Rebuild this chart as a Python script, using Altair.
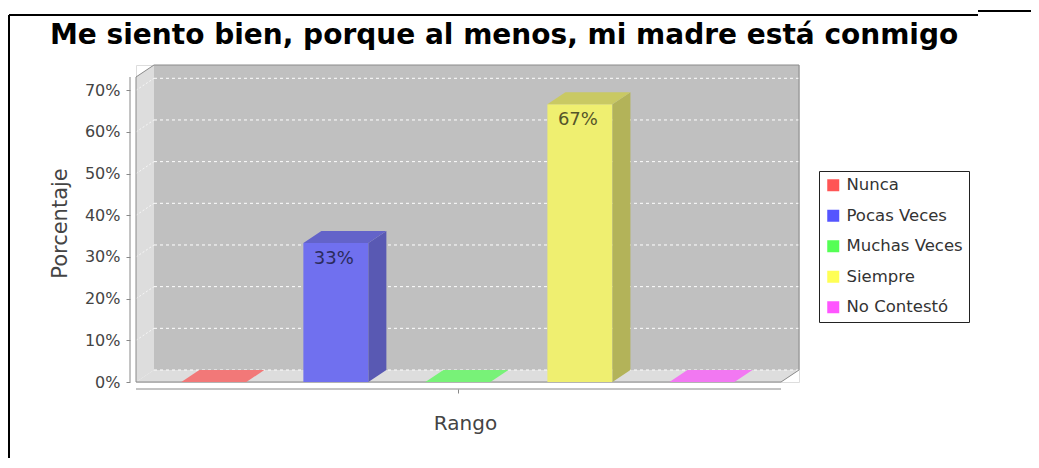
import altair as alt
import pandas as pd

# ---- data ----
categories = ["Nunca", "Pocas Veces", "Muchas Veces", "Siempre", "No Contestó"]
values = [0, 33.33, 0, 66.67, 0]
value_labels = ["", "33%", "", "67%", ""]
legend_colors = ["#FF5555", "#5555FF", "#55FF55", "#FFFF55", "#FF55FF"]
front_colors = ["#EF7070", "#7070EF", "#70EF70", "#EFEF70", "#EF70EF"]
top_colors = ["#F27878", "#6363C9", "#78F278", "#C9C963", "#F278F2"]
side_colors = ["#B35959", "#5959B3", "#59B359", "#B3B359", "#B359B3"]
label_colors = ["#333333", "#2B2B5C", "#333333", "#55552A", "#333333"]
y_ticks = [0, 10, 20, 30, 40, 50, 60, 70]
title_text = "Me siento bien, porque al menos, mi madre está conmigo"

# ---- 3D geometry (style constants, in scale units) ----
X_LO = -0.638       # left edge of front plane
X_HI = 4.648        # right edge of front plane
DX = 0.1475         # depth offset along x
DY = 2.88           # depth offset along y
Y_FRONT_TOP = 73.19
HALF = 0.2664       # half bar width
X_MAX = X_HI + DX
Y_MAX = Y_FRONT_TOP + DY
W, H = 663, 317

FONT = "DejaVu Sans"
xs = alt.Scale(domain=[X_LO, X_MAX], nice=False, zero=False)
ys = alt.Scale(domain=[0, Y_MAX], nice=False, zero=False)
x_axis = alt.Axis(values=[2], labels=False, domain=False, grid=False, ticks=True,
                  tickSize=4, tickColor="#888888", offset=7, title="Rango",
                  titleFont=FONT, titleFontSize=20, titleFontWeight="normal",
                  titleColor="#444444", titleX=329, titleY=34,
                  titleAlign="center", titleBaseline="middle")
y_axis = alt.Axis(values=y_ticks, labelExpr="datum.value + '%'", domain=False,
                  grid=False, tickSize=4, tickColor="#888888", offset=6,
                  labelPadding=6, labelFont=FONT, labelFontSize=16,
                  labelColor="#444444", title="Porcentaje", titleFont=FONT,
                  titleFontSize=21, titleFontWeight="normal", titleColor="#444444",
                  titleX=-70, titleY=158, titleAngle=270, titleAlign="center",
                  titleBaseline="middle")


def X(f="x"):
    return alt.X(f"{f}:Q", scale=xs, axis=x_axis)


def Y(f="y"):
    return alt.Y(f"{f}:Q", scale=ys, axis=y_axis, stack=None)


X2 = alt.X2("x2:Q")
Y2 = alt.Y2("y2:Q")

layers = []

# back wall
back = pd.DataFrame({"x": [X_LO + DX], "x2": [X_MAX], "y": [DY], "y2": [Y_MAX]})
layers.append(alt.Chart(back).mark_rect(color="#C0C0C0").encode(x=X(), x2=X2, y=Y(), y2=Y2))

# left wall
lw = pd.DataFrame({"x": [X_LO, X_LO + DX], "y": [0, DY], "y2": [Y_FRONT_TOP, Y_MAX]})
layers.append(alt.Chart(lw).mark_area(color="#DDDDDD").encode(x=X(), y=Y(), y2=Y2))

# floor
fl = pd.DataFrame({"x": [X_LO, X_LO + DX, X_HI, X_MAX],
                   "y": [0, 0, 0, DY], "y2": [0, DY, DY, DY]})
layers.append(alt.Chart(fl).mark_area(color="#DDDDDD").encode(x=X(), y=Y(), y2=Y2))

# gridlines on back wall
gb = pd.DataFrame({"x": [X_LO + DX] * len(y_ticks), "x2": [X_MAX] * len(y_ticks),
                   "y": [v + DY for v in y_ticks], "y2": [v + DY for v in y_ticks]})
layers.append(alt.Chart(gb).mark_rule(color="white", strokeDash=[3, 3], strokeWidth=1)
              .encode(x=X(), x2=X2, y=Y(), y2=Y2))

# gridlines on left wall
gl = pd.DataFrame({"x": [X_LO] * 7, "x2": [X_LO + DX] * 7,
                   "y": y_ticks[1:], "y2": [v + DY for v in y_ticks[1:]]})
layers.append(alt.Chart(gl).mark_rule(color="white", strokeDash=[2, 2], strokeWidth=1, opacity=0.7)
              .encode(x=X(), x2=X2, y=Y(), y2=Y2))

# outline of the walls
ol = pd.DataFrame({"x": [X_LO, X_LO, X_LO + DX, X_MAX, X_MAX, X_HI, X_LO],
                   "y": [0, Y_FRONT_TOP, Y_MAX, Y_MAX, DY, 0, 0],
                   "o": list(range(7))})
layers.append(alt.Chart(ol).mark_line(color="#8A8A8A", strokeWidth=1)
              .encode(x=X(), y=Y(), order="o:Q"))

# bars
front_rows, side_rows, top_rows, text_rows = [], [], [], []
for i, (cat, v) in enumerate(zip(categories, values)):
    c = float(i)
    if v > 0:
        front_rows.append({"x": c - HALF, "x2": c + HALF, "y": 0, "y2": v, "fill": front_colors[i]})
        side_rows += [
            {"bar": cat, "x": c + HALF, "y": 0, "y2": v, "fill": side_colors[i]},
            {"bar": cat, "x": c + HALF + DX, "y": DY, "y2": v + DY, "fill": side_colors[i]},
        ]
        text_rows.append({"x": c, "y": v, "t": value_labels[i], "tc": label_colors[i]})
    top_rows += [
        {"bar": cat, "x": c - HALF, "y": v, "y2": v, "fill": top_colors[i]},
        {"bar": cat, "x": c - HALF + DX, "y": v, "y2": v + DY, "fill": top_colors[i]},
        {"bar": cat, "x": c + HALF, "y": v, "y2": v + DY, "fill": top_colors[i]},
        {"bar": cat, "x": c + HALF + DX, "y": v + DY, "y2": v + DY, "fill": top_colors[i]},
    ]

layers.append(alt.Chart(pd.DataFrame(front_rows)).mark_rect()
              .encode(x=X(), x2=X2, y=Y(), y2=Y2, fill=alt.Fill("fill:N", scale=None)))
layers.append(alt.Chart(pd.DataFrame(side_rows)).mark_area()
              .encode(x=X(), y=Y(), y2=Y2, fill=alt.Fill("fill:N", scale=None), detail="bar:N"))
layers.append(alt.Chart(pd.DataFrame(top_rows)).mark_area()
              .encode(x=X(), y=Y(), y2=Y2, fill=alt.Fill("fill:N", scale=None), detail="bar:N"))

# value labels
layers.append(alt.Chart(pd.DataFrame(text_rows))
              .mark_text(font=FONT, fontSize=18, dy=15.5, dx=-2, baseline="middle")
              .encode(x=X(), y=Y(), text="t:N", fill=alt.Fill("tc:N", scale=None)))

# y axis line (front plane only)
ya = pd.DataFrame({"y": [0], "y2": [Y_FRONT_TOP]})
layers.append(alt.Chart(ya).mark_rule(color="#888888", strokeWidth=1)
              .encode(x=alt.value(-6), y=Y(), y2=Y2))

# x axis line
xa = pd.DataFrame({"x": [X_LO], "x2": [X_HI]})
layers.append(alt.Chart(xa).mark_rule(color="#888888", strokeWidth=1)
              .encode(x=X(), x2=X2, y=alt.value(H + 7)))

# page border fragments
bd = pd.DataFrame({"k": [0]})
layers.append(alt.Chart(bd).mark_rule(color="black", strokeWidth=2)
              .encode(x=alt.value(-127), x2=alt.value(842), y=alt.value(-50)))
layers.append(alt.Chart(bd).mark_rule(color="black", strokeWidth=2)
              .encode(x=alt.value(842), x2=alt.value(905), y=alt.value(-54)))
layers.append(alt.Chart(bd).mark_rule(color="black", strokeWidth=2)
              .encode(x=alt.value(-127), y=alt.value(-50), y2=alt.value(405)))

# legend carrier (hidden points, clipped)
lg = pd.DataFrame({"cat": categories, "x": [float(i) for i in range(5)], "y": [-10] * 5})
layers.append(alt.Chart(lg).mark_point(shape="square", filled=True, size=144, clip=True, opacity=1)
              .encode(x=X(), y=Y(),
                      color=alt.Color("cat:N", sort=categories,
                                      scale=alt.Scale(domain=categories, range=legend_colors),
                                      legend=alt.Legend(orient="none", legendX=683, legendY=106,
                                                        title=None, padding=6, strokeColor="#222222",
                                                        fillColor="white", symbolType="square",
                                                        symbolSize=144, symbolStrokeWidth=0,
                                                        labelFont=FONT, labelFontSize=16.5,
                                                        labelColor="#333333", rowPadding=13.5,
                                                        labelOffset=5))))

chart = alt.layer(*layers).properties(
    width=W, height=H,
    title=alt.TitleParams(text=title_text, anchor="start", frame="group", dx=-86,
                          offset=0, dy=62, baseline="alphabetic", font=FONT, fontSize=28,
                          fontWeight="bold", color="black"),
    autosize=alt.AutoSizeParams(type="none"),
    padding={"left": 128, "top": 57, "right": 232, "bottom": 76},
).configure_view(stroke=None).configure(font=FONT)

chart.save("out.html", embed_options={"renderer": "svg", "actions": False})
